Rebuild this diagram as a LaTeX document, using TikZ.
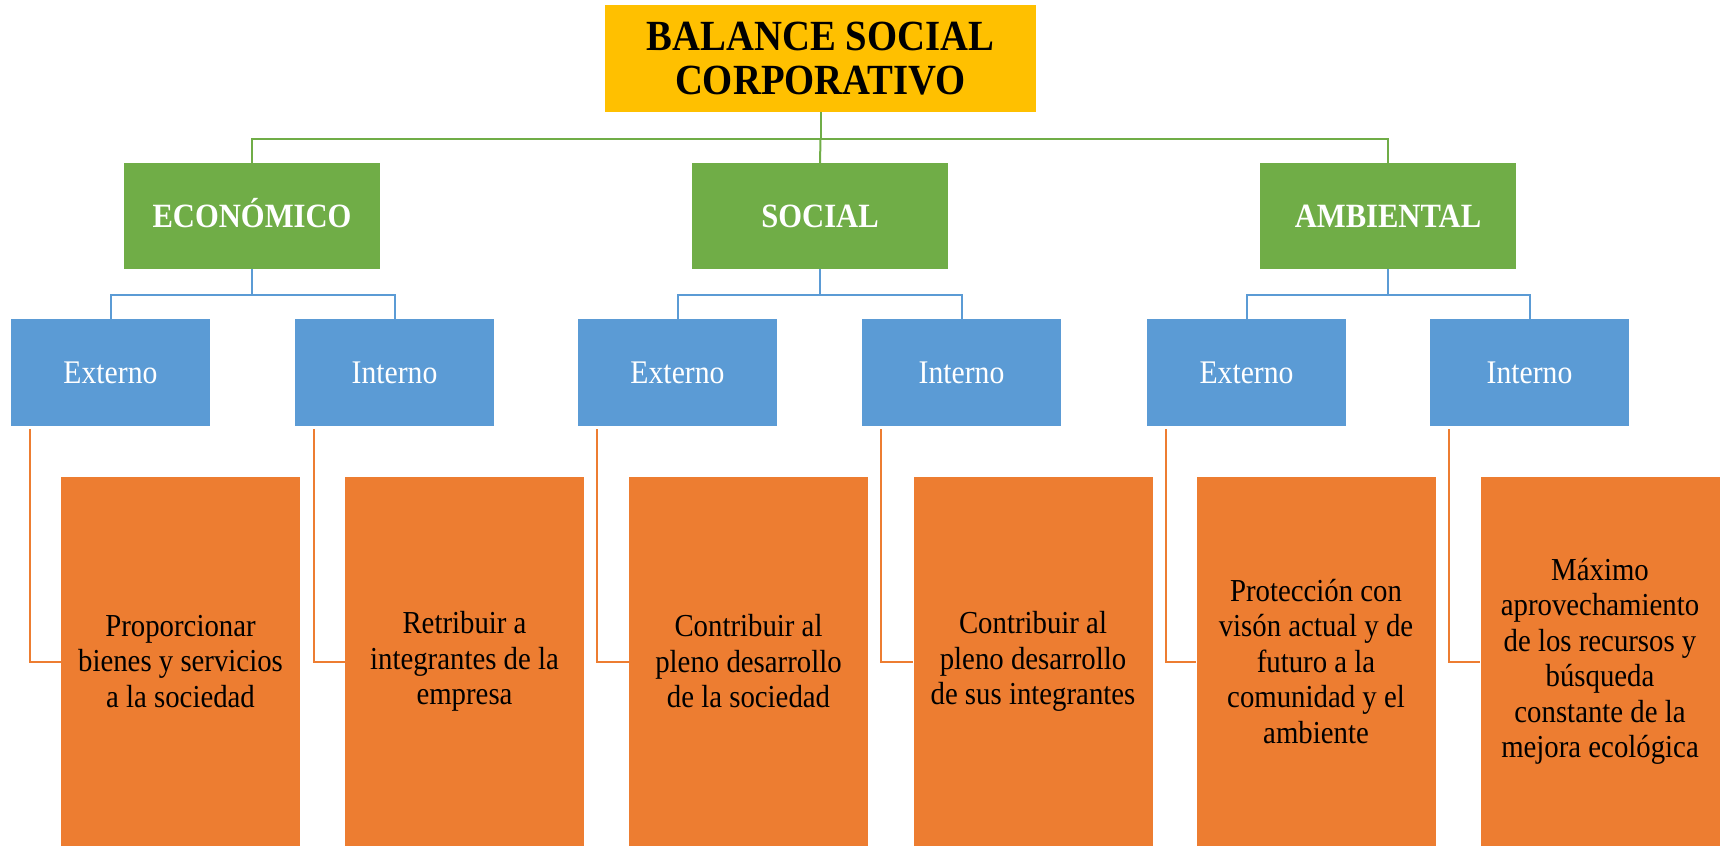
\documentclass[tikz,border=0pt]{standalone}
\usepackage{fontspec}
\setmainfont{Liberation Serif}[FakeStretch=0.9]
\definecolor{cgold}{HTML}{FFC000}
\definecolor{cgreen}{HTML}{70AD47}
\definecolor{cblue}{HTML}{5B9BD5}
\definecolor{corange}{HTML}{ED7D31}
\begin{document}
\begin{tikzpicture}[x=1pt,y=-1pt,
  topbox/.style={fill=cgold,draw=none,minimum width=431pt,minimum height=107pt,inner sep=0pt,align=center,font=\fontsize{43}{44}\selectfont\bfseries,text=black},
  greenbox/.style={fill=cgreen,draw=none,minimum width=256pt,minimum height=106pt,inner sep=0pt,align=center,font=\fontsize{34}{38}\selectfont\bfseries,text=white,text height=23pt,text depth=0pt},
  bluebox/.style={fill=cblue,draw=none,minimum width=199pt,minimum height=107pt,inner sep=0pt,align=center,font=\fontsize{33}{38}\selectfont,text=white},
  orangebox/.style={fill=corange,draw=none,minimum width=239pt,minimum height=369pt,inner sep=0pt,align=center,font=\fontsize{32}{35.5}\selectfont,text=black},
  gline/.style={draw=cgreen,line width=2pt},
  bline/.style={draw=cblue,line width=2pt},
  oline/.style={draw=corange,line width=2pt}]
\useasboundingbox (0,0) rectangle (1724,846);

% top
\node[topbox] (top) at (820.5,58.5) {BALANCE SOCIAL\\CORPORATIVO};

% level 2
\node[greenbox] (econ) at (252,216) {ECONÓMICO};
\node[greenbox] (soc) at (820,216) {SOCIAL};
\node[greenbox] (amb) at (1388,216) {AMBIENTAL};

% level 3
\node[bluebox] (e1) at (110.5,372.5) {Externo};
\node[bluebox] (i1) at (394.5,372.5) {Interno};
\node[bluebox] (e2) at (677.5,372.5) {Externo};
\node[bluebox] (i2) at (961.5,372.5) {Interno};
\node[bluebox] (e3) at (1246.5,372.5) {Externo};
\node[bluebox] (i3) at (1529.5,372.5) {Interno};

% level 4
\node[orangebox] (o1) at (180.5,661.5) {Proporcionar\\bienes y servicios\\a la sociedad};
\node[orangebox] (o2) at (464.5,661.5) {Retribuir a\\integrantes de la\\empresa};
\node[orangebox] (o3) at (748.5,661.5) {Contribuir al\\pleno desarrollo\\de la sociedad};
\node[orangebox] (o4) at (1033,661.5) {Contribuir al\\pleno desarrollo\\de sus integrantes};
\node[orangebox] (o5) at (1316,661.5) {Protección con\\visón actual y de\\futuro a la\\comunidad y el\\ambiente};
\node[orangebox] (o6) at (1600,661.5) {Máximo\\aprovechamiento\\de los recursos y\\búsqueda\\constante de la\\mejora ecológica};

% green connectors
\coordinate (gbus) at (820.5,139);
\draw[gline] (top.south) -- (gbus);
\draw[gline] (econ.north) |- (gbus) -| (amb.north);
\draw[gline] (gbus) -- (soc.north);

% blue connectors
\coordinate (b1) at (252,295);
\coordinate (b2) at (820,295);
\coordinate (b3) at (1388,295);
\draw[bline] (econ.south) -- (b1);
\draw[bline] (e1.north) |- (b1) -| (i1.north);
\draw[bline] (soc.south) -- (b2);
\draw[bline] (e2.north) |- (b2) -| (i2.north);
\draw[bline] (amb.south) -- (b3);
\draw[bline] (e3.north) |- (b3) -| (i3.north);

% orange connectors
\draw[oline] ([xshift=19pt,yshift=-3pt]e1.south west) |- (o1.west);
\draw[oline] ([xshift=19pt,yshift=-3pt]i1.south west) |- (o2.west);
\draw[oline] ([xshift=19pt,yshift=-3pt]e2.south west) |- (o3.west);
\draw[oline] ([xshift=19pt,yshift=-3pt]i2.south west) |- (o4.west);
\draw[oline] ([xshift=19pt,yshift=-3pt]e3.south west) |- (o5.west);
\draw[oline] ([xshift=19pt,yshift=-3pt]i3.south west) |- (o6.west);
\end{tikzpicture}
\end{document}
